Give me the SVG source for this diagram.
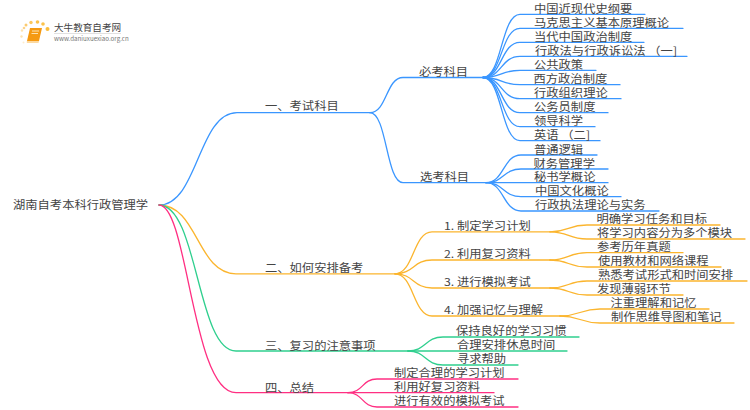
<svg xmlns="http://www.w3.org/2000/svg" width="750" height="410" viewBox="0 0 750 410">
<style>
text{font-family:"Noto Sans CJK SC","Noto Sans",sans-serif;font-size:11px;fill:#444}
#connectors path{fill:none;stroke-width:1.3;stroke-linecap:round}
.b path{stroke:#3a96ff}.o path{stroke:#fbb52e}.g path{stroke:#2fcf8e}.p path{stroke:#ff2f82}
</style>
<g id="logo">
<circle cx="24" cy="28" r="1.3" fill="#fbd38a"/><circle cx="26" cy="25" r="1.5" fill="#fbcb70"/><circle cx="31" cy="22.500" r="1.700" fill="#fbc85f"/><circle cx="37.500" cy="22" r="1.800" fill="#fbc24a"/><circle cx="43" cy="24" r="1.800" fill="#fbc24a"/><circle cx="47.500" cy="29" r="2" fill="#fbbd3a"/><circle cx="22" cy="30.500" r="1.200" fill="#fde3b0"/><circle cx="21.500" cy="36.500" r="1.200" fill="#fde3b0"/><circle cx="23.500" cy="42.500" r="1" fill="#feeccd"/>
<path d="M30,28 H42 L39,41 H27 Z" fill="#f59a12"/><path d="M27,41 H39 L38.500,43 H28 Q26,43 27,41 Z" fill="#fcd9a0"/><path d="M32,31 H39 M31.500,33.500 H38" stroke="#fde3b0" stroke-width="1"/>
<text x="54" y="31" style="font-size:9.600px">大牛教育自考网</text>
<path d="M54,33.500 H121" stroke="#ccc" stroke-width=".6"/>
<text x="54" y="41" style="font-size:6.200px;fill:#777">www.daniuxuexiao.org.cn</text>
</g>
<g id="connectors">
<g class="b">
<path d="M159,205 C198,205 198,112.700 237,112.700 H370"/>
<path d="M370,112.700 C387,112.700 386,77.500 403,77.500 H483"/>
<path d="M370,112.700 C387,112.700 386,182.700 403,182.700 H486"/>
<path d="M483,77.500 C502,77.500 501,14.300 520,14.300 H645"/>
<path d="M483,77.500 C502,77.500 501,28.300 520,28.300 H683"/>
<path d="M483,77.500 C502,77.500 501,42.300 520,42.300 H644"/>
<path d="M483,77.500 C502,77.500 501,56.300 520,56.300 H687"/>
<path d="M483,77.500 C502,77.500 501,70.300 520,70.300 H596"/>
<path d="M483,77.500 C502,77.500 501,84.700 520,84.700 H620"/>
<path d="M483,77.500 C502,77.500 501,98.700 520,98.700 H621"/>
<path d="M483,77.500 C502,77.500 501,112.700 520,112.700 H608"/>
<path d="M483,77.500 C502,77.500 501,126.700 520,126.700 H595"/>
<path d="M483,77.500 C502,77.500 501,140.700 520,140.700 H600"/>
<path d="M486,182.700 C504,182.700 503,155 521,155 H597"/>
<path d="M486,182.700 C504,182.700 503,169 521,169 H608"/>
<path d="M486,182.700 H608"/>
<path d="M486,182.700 C504,182.700 503,196.700 521,196.700 H621"/>
<path d="M486,182.700 C504,182.700 503,211 521,211 H659"/>
</g>
<g class="o">
<path d="M159,205 C198,205 197,273.800 236,273.800 H395"/>
<path d="M395,273.800 C414,273.800 413,231.800 432,231.800 H550"/>
<path d="M395,273.800 C414,273.800 413,260 432,260 H550"/>
<path d="M395,273.800 C414,273.800 413,288 432,288 H550"/>
<path d="M395,273.800 C414,273.800 413,316 432,316 H560"/>
<path d="M550,231.800 C569,231.800 568,225 587,225 H720"/>
<path d="M550,231.800 C569,231.800 568,239 587,239 H745"/>
<path d="M550,260 C569,260 568,252.700 587,252.700 H683"/>
<path d="M550,260 C569,260 568,267 587,267 H721"/>
<path d="M550,288 C569,288 568,281 587,281 H747"/>
<path d="M550,288 C569,288 568,295 587,295 H683"/>
<path d="M560,316 C580,316 580,309 600,309 H709"/>
<path d="M560,316 C580,316 580,323 600,323 H734"/>
</g>
<g class="g">
<path d="M159,205 C198,205 197,351 236,351 H408"/>
<path d="M408,351 C426,351 425,337 443,337 H579"/>
<path d="M408,351 H567"/>
<path d="M408,351 C426,351 425,365 443,365 H518"/>
</g>
<g class="p">
<path d="M159,205 C188,205 192,392.700 236,392.700 H348"/>
<path d="M348,392.700 C363,392.700 362,379 377,379 H518"/>
<path d="M348,392.700 H494"/>
<path d="M348,392.700 C363,392.700 362,407 377,407 H518"/>
</g>
</g>
<g id="root"><text transform="translate(13,209) scale(1.118,1)">湖南自考本科行政管理学</text></g>
<g id="n1"><text transform="translate(265,110.300) scale(1.118,1)">一、考试科目</text></g>
<g id="n2"><text transform="translate(265,272.300) scale(1.118,1)">二、如何安排备考</text></g>
<g id="n3"><text transform="translate(265,349.700) scale(1.118,1)">三、复习的注意事项</text></g>
<g id="n4"><text transform="translate(265,391.700) scale(1.118,1)">四、总结</text></g>
<g id="n1a"><text transform="translate(419,75.700) scale(1.118,1)">必考科目</text></g>
<g id="n1b"><text transform="translate(420,181) scale(1.118,1)">选考科目</text></g>
<g id="l1"><text transform="translate(534,12.800) scale(1.118,1)">中国近现代史纲要</text></g>
<g id="l2"><text transform="translate(534,26.800) scale(1.118,1)">马克思主义基本原理概论</text></g>
<g id="l3"><text transform="translate(534,40.800) scale(1.118,1)">当代中国政治制度</text></g>
<g id="l4"><text transform="translate(535,54.800) scale(1.118,1)">行政法与行政诉讼法 （一]</text></g>
<g id="l5"><text transform="translate(534,68.800) scale(1.118,1)">公共政策</text></g>
<g id="l6"><text transform="translate(533.500,83) scale(1.118,1)">西方政治制度</text></g>
<g id="l7"><text transform="translate(534,97) scale(1.118,1)">行政组织理论</text></g>
<g id="l8"><text transform="translate(534,111) scale(1.118,1)">公务员制度</text></g>
<g id="l9"><text transform="translate(534,125) scale(1.118,1)">领导科学</text></g>
<g id="l10"><text transform="translate(534,139) scale(1.118,1)">英语 （二]</text></g>
<g id="s1"><text transform="translate(534,153.500) scale(1.118,1)">普通逻辑</text></g>
<g id="s2"><text transform="translate(533.500,167.500) scale(1.118,1)">财务管理学</text></g>
<g id="s3"><text transform="translate(534,181.200) scale(1.118,1)">秘书学概论</text></g>
<g id="s4"><text transform="translate(535,195.200) scale(1.118,1)">中国文化概论</text></g>
<g id="s5"><text transform="translate(535,209.300) scale(1.118,1)">行政执法理论与实务</text></g>
<g id="p1"><text transform="translate(444,230) scale(1.118,1)">1. 制定学习计划</text></g>
<g id="p2"><text transform="translate(444,258.300) scale(1.118,1)">2. 利用复习资料</text></g>
<g id="p3"><text transform="translate(444,286.300) scale(1.118,1)">3. 进行模拟考试</text></g>
<g id="p4"><text transform="translate(444,314.300) scale(1.118,1)">4. 加强记忆与理解</text></g>
<g id="p11"><text transform="translate(596.500,223.300) scale(1.118,1)">明确学习任务和目标</text></g>
<g id="p12"><text transform="translate(597,237.300) scale(1.118,1)">将学习内容分为多个模块</text></g>
<g id="p21"><text transform="translate(597,251) scale(1.118,1)">参考历年真题</text></g>
<g id="p22"><text transform="translate(598,265.300) scale(1.118,1)">使用教材和网络课程</text></g>
<g id="p31"><text transform="translate(598,279.300) scale(1.118,1)">熟悉考试形式和时间安排</text></g>
<g id="p32"><text transform="translate(597,293.300) scale(1.118,1)">发现薄弱环节</text></g>
<g id="p41"><text transform="translate(610.500,307.300) scale(1.118,1)">注重理解和记忆</text></g>
<g id="p42"><text transform="translate(611,321.300) scale(1.118,1)">制作思维导图和笔记</text></g>
<g id="g1"><text transform="translate(456,335.300) scale(1.118,1)">保持良好的学习习惯</text></g>
<g id="g2"><text transform="translate(457,349.300) scale(1.118,1)">合理安排休息时间</text></g>
<g id="g3"><text transform="translate(457,363.300) scale(1.118,1)">寻求帮助</text></g>
<g id="t1"><text transform="translate(394,377.300) scale(1.118,1)">制定合理的学习计划</text></g>
<g id="t2"><text transform="translate(394,391.300) scale(1.118,1)">利用好复习资料</text></g>
<g id="t3"><text transform="translate(394,405.300) scale(1.118,1)">进行有效的模拟考试</text></g>
</svg>
